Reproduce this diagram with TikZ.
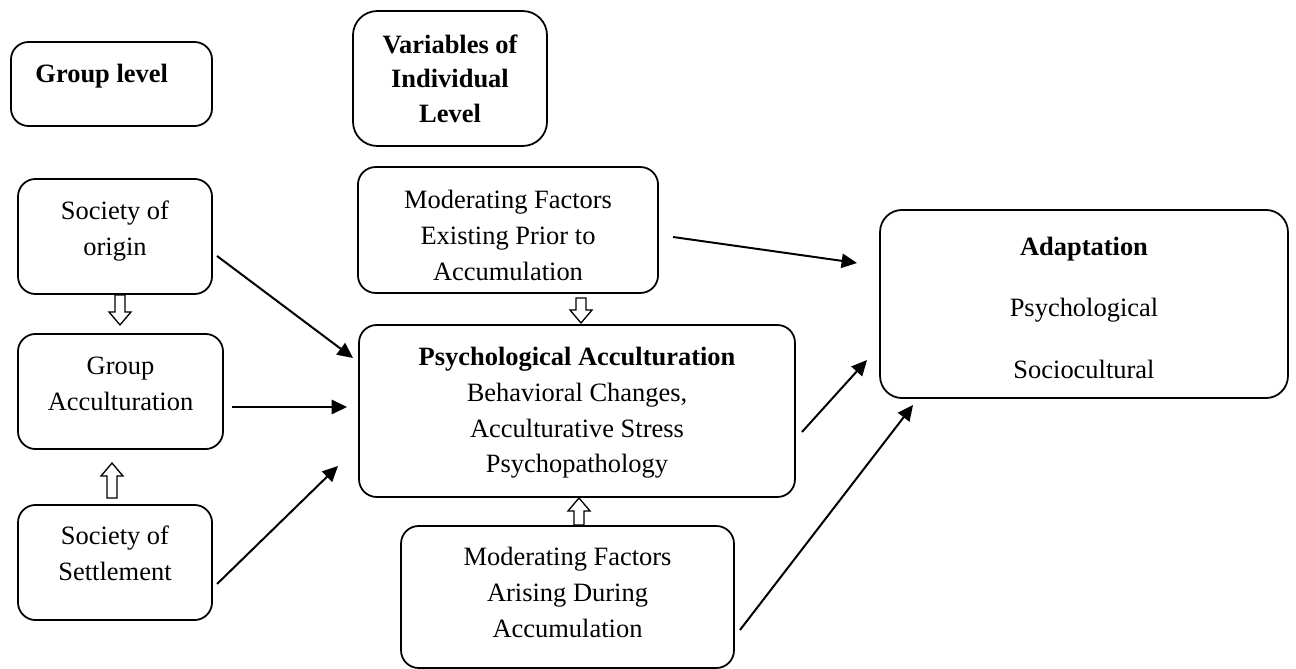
\documentclass[tikz,border=0pt]{standalone}
\usepackage{fontspec}
\setmainfont{Liberation Serif}
\usetikzlibrary{arrows.meta,calc}
\newcommand\hollowarrow[2]{\draw[hollow] let \p1=(#1),\p2=(#2),\n1={sign(\y2-\y1)} in
  (\x1-2.3pt,\y1) -- (\x1-2.3pt,\y2-\n1*5.9pt) -- (\x1-5pt,\y2-\n1*5.9pt) -- (\x1,\y2)
  -- (\x1+5pt,\y2-\n1*5.9pt) -- (\x1+2.3pt,\y2-\n1*5.9pt) -- (\x1+2.3pt,\y1) -- cycle;}
\begin{document}
\begin{tikzpicture}[x=0.4535pt,y=-0.4535pt,
  every node/.style={draw,rounded corners=8pt,line width=0.8pt,align=center,outer sep=0pt,
    text depth=5pt,font=\fontsize{12}{16.3}\selectfont},
  arr/.style={-{Triangle[length=7pt,width=6.5pt]},line width=0.9pt},
  hollow/.style={draw,fill=white,line width=0.6pt}]
\useasboundingbox (0,0) rectangle (1296,669);
\node[minimum width=91.2pt,minimum height=38.1pt,text width=69pt,align=flush left,text height=3.2pt] at(111.5,84)(grp){\bfseries Group level};
\node[minimum width=88pt,minimum height=61.2pt,rounded corners=11pt,text height=44.5pt,font=\fontsize{12}{15.6}\selectfont\bfseries] at(450,78.5)(var){Variables of\\Individual\\Level};
\node[minimum width=88pt,minimum height=52.2pt,text height=21.8pt] at(115,236.5)(orig){Society of\\origin};
\node[minimum width=93pt,minimum height=52.2pt,text height=21.8pt] at(120.5,391.5)(gacc){Group\\Acculturation};
\node[minimum width=88pt,minimum height=52.2pt,text height=20.9pt] at(115,562.5)(sett){Society of\\Settlement};
\node[minimum width=136.1pt,minimum height=57.1pt,text height=45.4pt,text depth=0pt] at(508,230)(prior){Moderating Factors\\Existing Prior to\\Accumulation};
\node[minimum width=197.7pt,minimum height=78pt,text height=61.2pt] at(577,411)(psych){\textbf{Psychological Acculturation}\\Behavioral Changes,\\Acculturative Stress\\Psychopathology};
\node[minimum width=151pt,minimum height=64.4pt,text height=41.3pt] at(567.5,597)(during){Moderating Factors\\Arising During\\Accumulation};
\node[minimum width=185pt,minimum height=85.3pt,rounded corners=10pt,text height=72.2pt] at(1084,304)(adapt){\textbf{Adaptation}\\[11.6pt]Psychological\\[11.6pt]Sociocultural};
\hollowarrow{[shift={(5,1)}]orig.south}{[shift={(-0.5,-9)}]gacc.north}
\hollowarrow{[shift={(-3,-7)}]sett.north}{[shift={(-8.5,14)}]gacc.south}
\hollowarrow{[shift={(73,5)}]prior.south}{[shift={(4,-2)}]psych.north}
\hollowarrow{[shift={(11.5,-1)}]during.north}{[shift={(2,1)}]psych.south}
\path ([shift={(5,19.5)}]orig.east) edge[arr] ([shift={(-6,-53)}]psych.west)
      ([shift={(9,15.5)}]gacc.east) edge[arr] ([shift={(-12,-4)}]psych.west)
      ([shift={(5,21.5)}]sett.east) edge[arr] ([shift={(-21,55)}]psych.west)
      ([shift={(15,7)}]prior.east) edge[arr] ([shift={(-23,-41)}]adapt.west)
      ([shift={(7,21)}]psych.east) edge[arr] ([shift={(-13,56)}]adapt.west)
      ([shift={(6,33)}]during.east) edge[arr] ([shift={(33,7)}]adapt.south west);
\end{tikzpicture}
\end{document}
